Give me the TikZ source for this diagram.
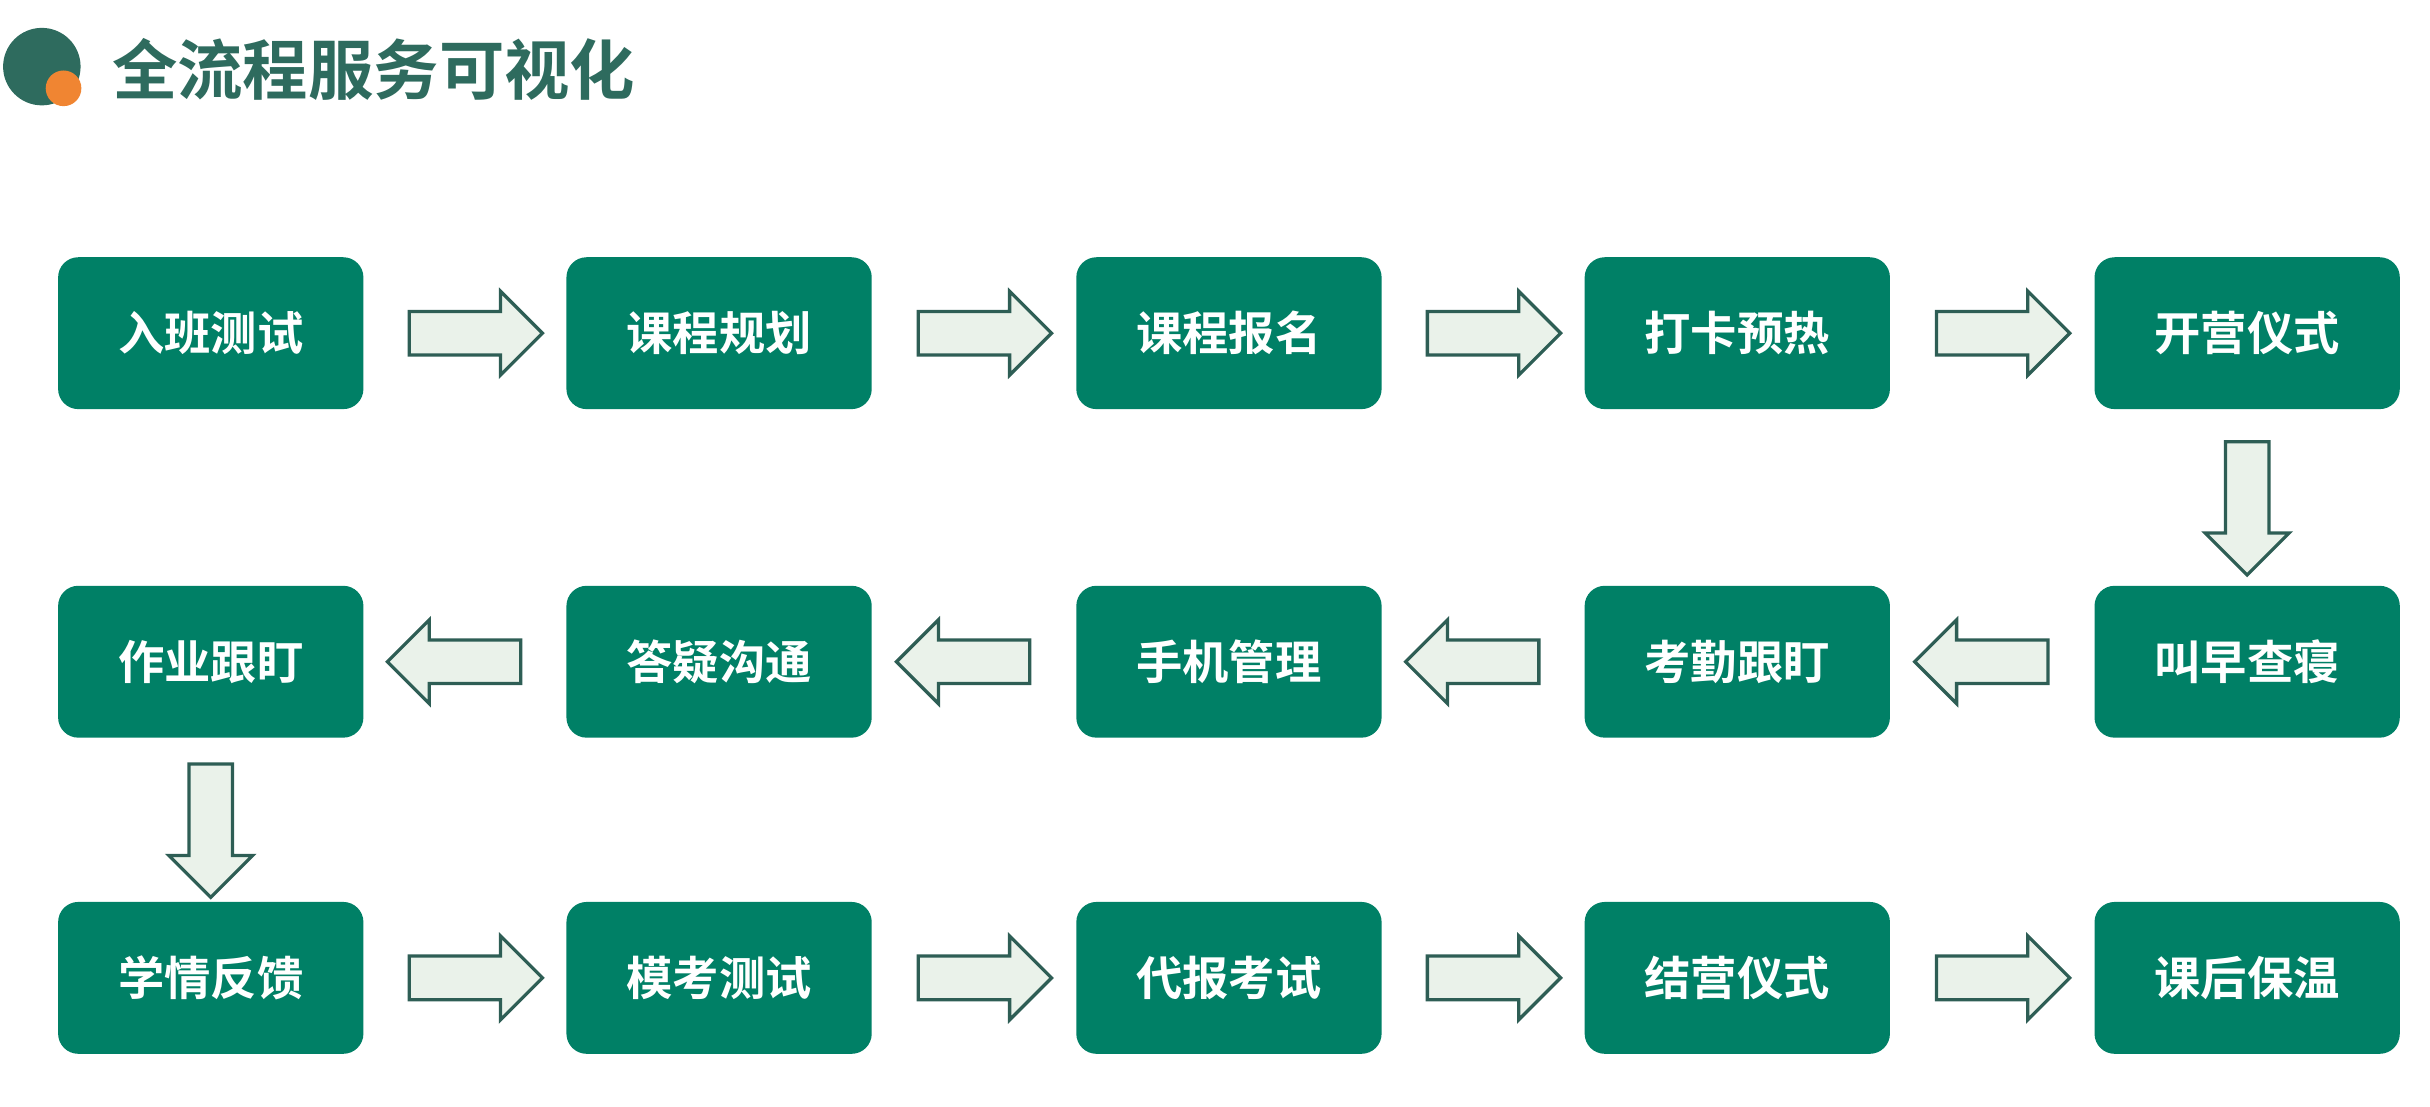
\documentclass[tikz,border=0pt]{standalone}
\usepackage{fontspec}
\setmainfont{Noto Sans CJK SC}[BoldFont={Noto Sans CJK SC Bold}]
\usetikzlibrary{shapes.arrows}
\usetikzlibrary{positioning}
\usetikzlibrary{calc}
\definecolor{boxgreen}{RGB}{0,128,102}
\definecolor{darkline}{RGB}{46,94,85}
\definecolor{paleg}{RGB}{234,242,234}
\definecolor{titlegreen}{RGB}{46,107,94}
\definecolor{dotorange}{RGB}{240,133,50}

\begin{document}
\begin{tikzpicture}[
	stepbox/.style={rectangle, rounded corners=0.13cm, fill=boxgreen, text=white,
		minimum width=1.97cm, minimum height=0.98cm, font=\bfseries\fontsize{8.5}{10}\selectfont},
	blockarrow/.style={single arrow, draw=darkline, fill=paleg, line width=0.6pt,
		minimum height=0.86cm, inner sep=0.13cm, single arrow head extend=0.13cm}]
	\useasboundingbox (0,0) rectangle (15.68,-7.14);
	
	% title
	\fill[titlegreen] (0.27,-0.43) circle (0.25);
	\fill[dotorange] (0.41,-0.57) circle (0.115);
	\node[anchor=west, text=titlegreen, font=\bfseries\fontsize{12}{14}\selectfont] (title) at (0.6,-0.45) {全流程服务可视化};
	
	% row 1
	\node[stepbox] (a1) at (1.36,-2.15) {入班测试};
	\node[stepbox] (a2) at (4.64,-2.15) {课程规划};
	\node[stepbox] (a3) at (7.93,-2.15) {课程报名};
	\node[stepbox] (a4) at (11.21,-2.15) {打卡预热};
	\node[stepbox] (a5) at (14.50,-2.15) {开营仪式};
	% row 2
	\node[stepbox] (b5) at (14.50,-4.27) {叫早查寝};
	\node[stepbox] (b4) at (11.21,-4.27) {考勤跟盯};
	\node[stepbox] (b3) at (7.93,-4.27) {手机管理};
	\node[stepbox] (b2) at (4.64,-4.27) {答疑沟通};
	\node[stepbox] (b1) at (1.36,-4.27) {作业跟盯};
	% row 3
	\node[stepbox] (c1) at (1.36,-6.31) {学情反馈};
	\node[stepbox] (c2) at (4.64,-6.31) {模考测试};
	\node[stepbox] (c3) at (7.93,-6.31) {代报考试};
	\node[stepbox] (c4) at (11.21,-6.31) {结营仪式};
	\node[stepbox] (c5) at (14.50,-6.31) {课后保温};
	
	% arrows
	\foreach \r in {a,c}
		\foreach \i/\j in {1/2,2/3,3/4,4/5}
			\node[blockarrow] (\r\i\j) at ($(\r\i)!0.5!(\r\j)$) {};
	\foreach \i/\j in {5/4,4/3,3/2,2/1}
		\node[blockarrow, shape border rotate=180] (b\i\j) at ($(b\i)!0.5!(b\j)$) {};
	\node[blockarrow, shape border rotate=270] (ab5) at ($(a5)!0.5!(b5)$) {};
	\node[blockarrow, shape border rotate=270] (bc1) at ($(b1)!0.5!(c1)$) {};
\end{tikzpicture}
\end{document}
